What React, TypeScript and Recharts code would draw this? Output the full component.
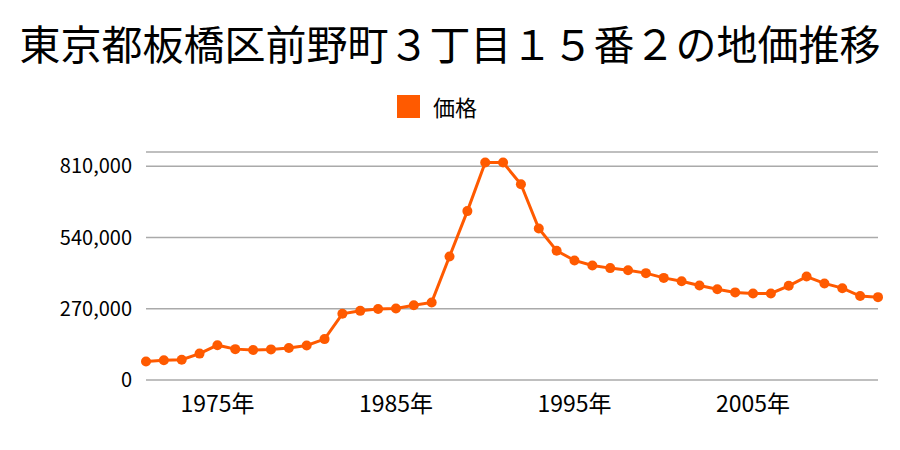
import React from "react";
import { LineChart, Line, XAxis, YAxis, CartesianGrid, Legend } from "recharts";

const TITLE = "東京都板橋区前野町３丁目１５番２の地価推移";
const SERIES_NAME = "価格";
const years = [
  1971, 1972, 1973, 1974, 1975, 1976, 1977, 1978, 1979, 1980,
  1981, 1982, 1983, 1984, 1985, 1986, 1987, 1988, 1989, 1990,
  1991, 1992, 1993, 1994, 1995, 1996, 1997, 1998, 1999, 2000,
  2001, 2002, 2003, 2004, 2005, 2006, 2007, 2008, 2009, 2010,
  2011, 2012,
];
const prices = [
  70000, 75000, 77000, 100000, 132000, 117000, 114000, 116000, 121000, 131000,
  155000, 251000, 262000, 269000, 271000, 283000, 294000, 468000, 640000, 824000,
  824000, 742000, 574000, 490000, 453000, 434000, 424000, 416000, 405000, 387000,
  374000, 358000, 344000, 332000, 328000, 328000, 357000, 392000, 366000, 348000,
  318000, 314000,
];
const xTicks = [1975, 1985, 1995, 2005];
const yTicks = [0, 270000, 540000, 810000];

const data = years.map((y, i) => ({ year: y, price: prices[i] }));

const COLOR = "#ff5a00";
const FONT = "'Noto Sans CJK JP', 'Noto Sans', sans-serif";

const LegendContent = () => (
  <div style={{ display: "flex", justifyContent: "center", alignItems: "center", fontFamily: FONT, height: 28 }}>
    <span style={{ display: "inline-block", width: 23, height: 23, background: COLOR, marginRight: 13 }} />
    <span style={{ fontSize: 22, color: "#000" }}>{SERIES_NAME}</span>
  </div>
);

export default function App() {
  return (
    <div style={{ position: "absolute", left: 0, top: 0, width: 900, height: 450, background: "#fff", fontFamily: FONT }}>
      <div
        style={{
          position: "absolute",
          left: 0,
          top: 14,
          width: 900,
          textAlign: "center",
          fontSize: 41,
          lineHeight: "56px",
          color: "#000",
          fontFamily: FONT,
        }}
      >
        {TITLE}
      </div>
      <LineChart width={900} height={450} data={data} margin={{ top: 124, right: 22, left: 0, bottom: 30 }}>
        <CartesianGrid horizontal vertical={false} stroke="#aaaaaa" strokeWidth={1.5} />
        <XAxis
          dataKey="year"
          type="number"
          domain={[1971, 2012]}
          ticks={xTicks}
          tickFormatter={(v) => `${v}年`}
          axisLine={false}
          tickLine={false}
          height={40}
          tickMargin={10}
          tick={{ fill: "#000", fontSize: 23, fontFamily: FONT }}
        />
        <YAxis
          type="number"
          domain={[0, 864000]}
          ticks={yTicks}
          tickFormatter={(v) => v.toLocaleString("en-US")}
          axisLine={false}
          tickLine={false}
          width={146}
          tickMargin={8}
          tick={{ fill: "#000", fontSize: 20, fontFamily: FONT }}
        />
        <Legend verticalAlign="top" content={<LegendContent />} wrapperStyle={{ top: 92, left: -13, width: 900 }} />
        <Line
          type="linear"
          dataKey="price"
          name={SERIES_NAME}
          stroke={COLOR}
          strokeWidth={3}
          dot={{ r: 5, fill: COLOR, stroke: COLOR, strokeWidth: 0 }}
          activeDot={false}
          isAnimationActive={false}
        />
      </LineChart>
    </div>
  );
}
